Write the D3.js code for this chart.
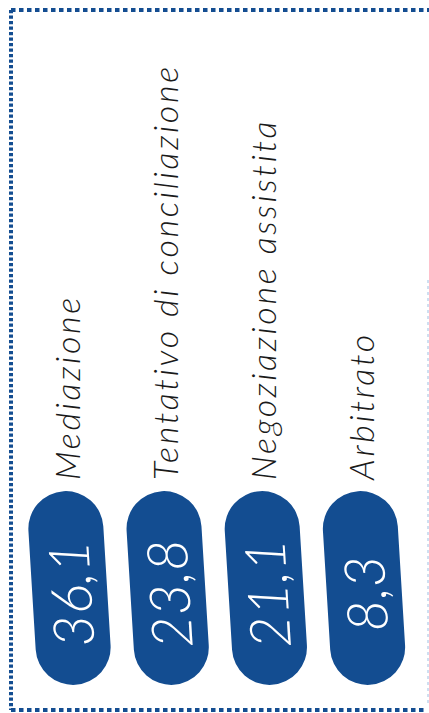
<!DOCTYPE html>
<html>
<head>
<meta charset="utf-8">
<script src="https://cdn.jsdelivr.net/npm/d3@7"></script>
<style>
  html, body { margin: 0; padding: 0; background: #ffffff; }
  svg { display: block; }
</style>
</head>
<body>
<svg id="chart" width="429" height="713"></svg>
<script>
// ---- data ----
const categories = ["Mediazione", "Tentativo di conciliazione", "Negoziazione assistita", "Arbitrato"];
const values = [36.1, 23.8, 21.1, 8.3];

// ---- setup ----
const W = 429, H = 713;
const svg = d3.select("#chart");
const blue = "#134d91";
const itFormat = d3.formatLocale({decimal: ",", thousands: ".", grouping: [3], currency: ["€", ""]}).format(".1f");

// frame (dotted border)
const frame = svg.append("g");
frame.append("line").attr("x1", 11).attr("y1", 10).attr("x2", W + 2).attr("y2", 10)
  .attr("stroke", blue).attr("stroke-width", 4).attr("stroke-dasharray", "4.5 3.5");
frame.append("line").attr("x1", 11).attr("y1", 10).attr("x2", 11).attr("y2", 710)
  .attr("stroke", blue).attr("stroke-width", 4).attr("stroke-dasharray", "3.3 2.2");
frame.append("line").attr("x1", 11).attr("y1", 710).attr("x2", 427).attr("y2", 710)
  .attr("stroke", blue).attr("stroke-width", 4).attr("stroke-dasharray", "4.5 3.5");
frame.append("line").attr("x1", 428).attr("y1", 280).attr("x2", 428).attr("y2", 706)
  .attr("stroke", "#9fbfe3").attr("stroke-width", 1).attr("stroke-dasharray", "3 3");

// scales
const x = d3.scalePoint().domain(categories).range([69.5, 364]);
const pillLen = 194, pillThick = 75;
const pillCenterY = 588;
const labelBaseY = 480;

const data = categories.map((c, i) => ({c, v: values[i]}));

// pills
const pills = svg.append("g").selectAll("g.pill").data(data).join("g")
  .attr("class", "pill")
  .attr("transform", d => `translate(${x(d.c)},${pillCenterY}) rotate(-93.5)`);

pills.append("rect")
  .attr("x", -pillLen / 2).attr("y", -pillThick / 2)
  .attr("width", pillLen).attr("height", pillThick)
  .attr("rx", pillThick / 2).attr("ry", pillThick / 2)
  .attr("fill", blue);

pills.append("text")
  .attr("x", -6).attr("y", 0)
  .attr("text-anchor", "middle")
  .attr("dominant-baseline", "central")
  .attr("fill", "#ffffff")
  .style("font-family", "Lato, 'Open Sans', sans-serif")
  .style("font-weight", 300)
  .style("font-style", "italic")
  .style("font-size", "56px")
  .text(d => itFormat(d.v));

// category labels
svg.append("g").selectAll("text.label").data(data).join("text")
  .attr("class", "label")
  .attr("transform", d => `translate(${x(d.c) + 10},${labelBaseY}) rotate(-90)`)
  .attr("text-anchor", "start")
  .attr("fill", "#1a1a1a")
  .style("font-family", "Lato, 'Open Sans', sans-serif")
  .style("font-weight", 300)
  .style("font-style", "italic")
  .style("font-size", "34px")
  .style("letter-spacing", "2.7px")
  .text(d => d.c);
</script>
</body>
</html>
